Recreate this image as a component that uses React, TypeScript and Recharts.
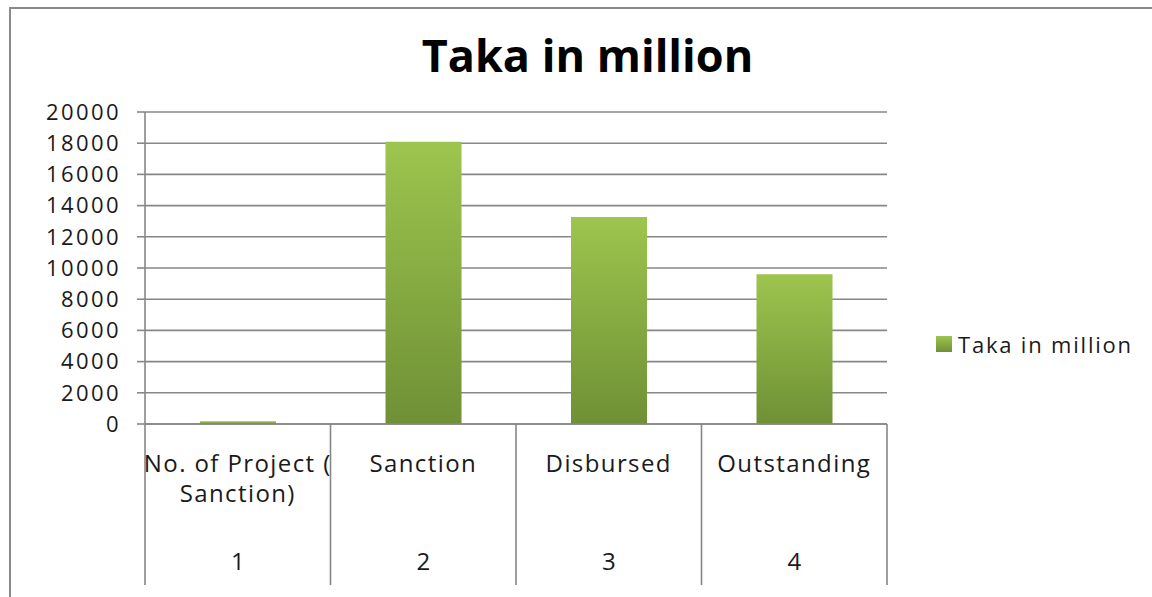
import { BarChart, Bar, XAxis, YAxis, CartesianGrid, Legend } from 'recharts';

// chart data
const categories = ['No. of Project (\nSanction)', 'Sanction', 'Disbursed', 'Outstanding'];
const categoryIndex = ['1', '2', '3', '4'];
const takaValues = [170, 18100, 13270, 9600];
const yTicks = [0, 2000, 4000, 6000, 8000, 10000, 12000, 14000, 16000, 18000, 20000];
const seriesName = 'Taka in million';

const data = categories.map((name, i) => ({
    name,
    idx: categoryIndex[i],
    value: takaValues[i],
}));

const W = 1152;
const H = 597;
const margin = { top: 112, right: 265, bottom: 13, left: 65 };
const Y_AXIS_W = 80;
const X_AXIS_H = 160;
const plotWidth = W - margin.left - Y_AXIS_W - margin.right;
const band = plotWidth / categories.length;

const FONT = '"Open Sans", sans-serif';
const GRID = '#878787';
const TEXT = '#1a1a1a';

function CategoryTick(props: any) {
    const { x, y, payload, index } = props;
    const item = data[index];
    const lines = String(payload.value).split('\n');
    const isLast = index === categories.length - 1;
    return (
        <g>
            <line x1={x - band / 2} y1={y} x2={x - band / 2} y2={y + 161} stroke={GRID} strokeWidth={1.6} />
            {isLast && (
                <line x1={x + band / 2} y1={y} x2={x + band / 2} y2={y + 161} stroke={GRID} strokeWidth={1.6} />
            )}
            {lines.map((ln, i) => (
                <text
                    key={i}
                    x={x}
                    y={y + 48 + i * 30}
                    textAnchor="middle"
                    fill={TEXT}
                    fontFamily={FONT}
                    fontSize={24}
                    letterSpacing={1.4}
                >
                    {ln}
                </text>
            ))}
            <text
                x={x}
                y={y + 146}
                textAnchor="middle"
                fill={TEXT}
                fontFamily={FONT}
                fontSize={24}
            >
                {item ? item.idx : ''}
            </text>
        </g>
    );
}

function LegendContent() {
    return (
        <div style={{ display: 'flex', alignItems: 'center', fontFamily: FONT }}>
            <svg width={16} height={16} style={{ marginRight: 6 }}>
                <defs>
                    <linearGradient id="legendGrad" x1="0" y1="0" x2="0" y2="1">
                        <stop offset="0%" stopColor="#9dc54e" />
                        <stop offset="100%" stopColor="#6f9035" />
                    </linearGradient>
                </defs>
                <rect x={0} y={0} width={16} height={16} fill="url(#legendGrad)" />
            </svg>
            <span style={{ fontSize: 22, letterSpacing: 1.8, color: TEXT }}>{seriesName}</span>
        </div>
    );
}

export default function App() {
    return (
        <div style={{ position: 'absolute', left: 0, top: 0, width: W, height: H, background: '#fff', overflow: 'hidden' }}>
            {/* outer frame */}
            <div
                style={{
                    position: 'absolute',
                    left: 9,
                    top: 7,
                    width: W,
                    height: H,
                    borderLeft: '2.5px solid #8a8a8a',
                    borderTop: '2.5px solid #8a8a8a',
                }}
            />
            <div
                style={{
                    position: 'absolute',
                    left: 0,
                    top: 24,
                    width: 1175,
                    textAlign: 'center',
                    fontFamily: FONT,
                    fontWeight: 700,
                    fontSize: 45,
                    color: '#000',
                }}
            >
                Taka in million
            </div>
            <BarChart width={W} height={H} data={data} margin={margin} style={{ position: 'absolute', left: 0, top: 0 }}>
                <defs>
                    <linearGradient id="barGrad" x1="0" y1="0" x2="0" y2="1">
                        <stop offset="0%" stopColor="#9dc54e" />
                        <stop offset="100%" stopColor="#6f9035" />
                    </linearGradient>
                </defs>
                <CartesianGrid vertical={false} stroke={GRID} strokeWidth={1.6} />
                <XAxis
                    dataKey="name"
                    height={X_AXIS_H}
                    axisLine={{ stroke: GRID, strokeWidth: 1.6 }}
                    tickLine={false}
                    tickSize={0}
                    tickMargin={0}
                    interval={0}
                    tick={<CategoryTick />}
                />
                <YAxis
                    width={Y_AXIS_W}
                    domain={[0, 20000]}
                    ticks={yTicks}
                    interval={0}
                    axisLine={{ stroke: GRID, strokeWidth: 1.6 }}
                    tickLine={{ stroke: GRID, strokeWidth: 1.6 }}
                    tickSize={8}
                    tickMargin={16}
                    tick={{ fill: TEXT, fontFamily: FONT, fontSize: 22, letterSpacing: 2.4 }}
                />
                <Legend
                    layout="horizontal"
                    verticalAlign="middle"
                    align="center"
                    content={<LegendContent />}
                    wrapperStyle={{ left: 936, top: 329, width: 210 }}
                />
                <Bar dataKey="value" name={seriesName} fill="url(#barGrad)" barSize={76} isAnimationActive={false} />
            </BarChart>
        </div>
    );
}
